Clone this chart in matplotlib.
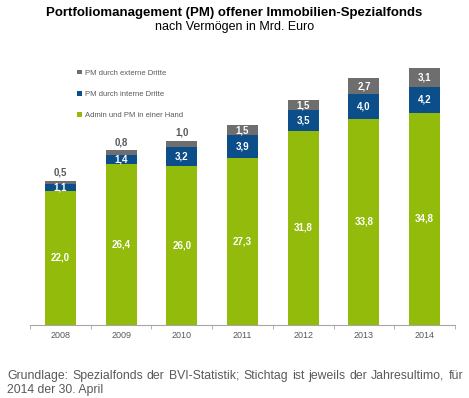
import numpy as np
import matplotlib
matplotlib.use("Agg")
import matplotlib.pyplot as plt

years = ["2008", "2009", "2010", "2011", "2012", "2013", "2014"]
admin = [22.0, 26.4, 26.0, 27.3, 31.8, 33.8, 34.8]
intern = [1.1, 1.4, 3.2, 3.9, 3.5, 4.0, 4.2]
extern = [0.5, 0.8, 1.0, 1.5, 1.5, 2.7, 3.1]

GREEN = "#93bb0c"
BLUE = "#0b4e8a"
GRAY = "#6e6e6e"
TXT = "#595959"

plt.rcParams["font.family"] = ["Liberation Sans", "DejaVu Sans"]

fig = plt.figure(figsize=(4.69, 3.98), dpi=100)
ax = fig.add_axes([0.064, 0.1834, 0.906, 0.69])

x = np.arange(len(years))
w = 0.51
ax.bar(x, admin, w, color=GREEN, label="Admin und PM in einer Hand")
ax.bar(x, intern, w, bottom=admin, color=BLUE, label="PM durch interne Dritte")
bot2 = np.array(admin) + np.array(intern)
ax.bar(x, extern, w, bottom=bot2, color=GRAY, label="PM durch externe Dritte")

fmt = lambda v: f"{v:.1f}".replace(".", ",")
for i in range(len(years)):
    ax.text(x[i], admin[i] / 2, fmt(admin[i]), ha="center", va="center",
            color="white", fontsize=7, fontweight="bold")
    ax.text(x[i], admin[i] + intern[i] / 2, fmt(intern[i]), ha="center", va="center",
            color="white", fontsize=7, fontweight="bold")
    if extern[i] < 1.4:
        ax.text(x[i], bot2[i] + extern[i] + 0.5, fmt(extern[i]), ha="center", va="bottom",
                color=TXT, fontsize=7, fontweight="bold")
    else:
        ax.text(x[i], bot2[i] + extern[i] / 2, fmt(extern[i]), ha="center", va="center",
                color="white", fontsize=7, fontweight="bold")

ax.set_xlim(-0.5, len(years) - 0.5)
ax.set_ylim(0, 45)
ax.set_yticks([])
for s in ["top", "right", "left"]:
    ax.spines[s].set_visible(False)
ax.spines["bottom"].set_color("#a6a6a6")
ax.set_xticks(x)
ax.set_xticklabels(years, fontsize=6.5, color=TXT)
ax.set_xticks(np.arange(-0.5, len(years)), minor=True)
ax.tick_params(axis="x", which="major", length=0, pad=4)
ax.tick_params(axis="x", which="minor", length=3, color="#a6a6a6", direction="out")

h, l = ax.get_legend_handles_labels()
leg = ax.legend(h[::-1], l[::-1], loc="upper left", bbox_to_anchor=(0.095, 0.955),
                frameon=False, fontsize=5.5, handlelength=0.6, handleheight=0.6,
                labelspacing=1.85, handletextpad=0.4)
for t in leg.get_texts():
    t.set_color(TXT)

fig.text(0.5, 0.968, "Portfoliomanagement (PM) offener Immobilien-Spezialfonds",
         ha="center", va="center", fontsize=9.5, fontweight="bold")
fig.text(0.5, 0.933, "nach Vermögen in Mrd. Euro", ha="center", va="center", fontsize=9)

# Fußnote, Blocksatz für die erste Zeile
line1 = "Grundlage: Spezialfonds der BVI-Statistik; Stichtag ist jeweils der Jahresultimo, für".split()
x0, x1 = 7 / 469, 463 / 469
y1 = 1 - 376 / 398
fig.canvas.draw()
r = fig.canvas.get_renderer()
words = [fig.text(0, y1, wd, fontsize=8.8, color=TXT, va="center") for wd in line1]
widths = [t.get_window_extent(r).width / fig.bbox.width for t in words]
gap = (x1 - x0 - sum(widths)) / (len(words) - 1)
pos = x0
for t, wdt in zip(words, widths):
    t.set_x(pos)
    pos += wdt + gap
fig.text(x0, 1 - 390 / 398, "2014 der 30. April", fontsize=8.8, color=TXT, va="center")

fig.savefig("out.png", dpi=100)
